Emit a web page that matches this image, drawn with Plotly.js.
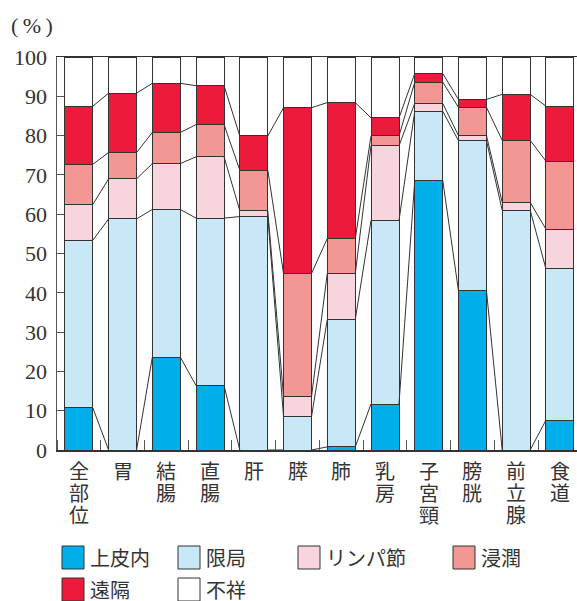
<!DOCTYPE html>
<html><head><meta charset="utf-8">
<script src="https://cdn.plot.ly/plotly-3.0.1.min.js"></script>
<style>body{margin:0;background:#fff}#c{width:577px;height:601px}</style>
</head><body><div id="c"></div>
<script>
const categories = ['全部位','胃','結腸','直腸','肝','膵','肺','乳房','子宮頸','膀胱','前立腺','食道'];
const seriesNames = ['上皮内','限局','リンパ節','浸潤','遠隔','不祥'];
const joohinai = [10.7,0,23.6,16.4,0,0,0.8,11.7,68.6,40.5,0,7.6];
const genkyoku = [42.7,58.8,37.6,42.6,59.4,8.5,32.4,46.7,17.6,38.2,61.0,38.5];
const lymph    = [9.1,10.2,11.7,15.6,1.5,5.1,11.7,19.0,2.0,1.3,2.0,10.1];
const shinjun  = [10.2,6.7,7.9,8.2,10.3,31.3,8.9,2.5,5.4,7.2,15.8,17.3];
const enkaku   = [14.8,15.1,12.5,9.9,8.7,42.2,34.6,4.6,2.2,2.0,11.7,14.0];
const fushou   = [12.5,9.2,6.7,7.3,20.1,12.9,11.6,15.5,4.2,10.8,9.5,12.5];
const yTicks = [0,10,20,30,40,50,60,70,80,90,100];

const seriesValues = [joohinai, genkyoku, lymph, shinjun, enkaku, fushou];
const colors = ['#00AEEA','#C8E8F8','#F8D4DC','#F29794','#EC1B3B','#FFFFFF'];
const BW = 0.64;
const xIdx = categories.map((_, i) => i);

const traces = seriesValues.map((vals, s) => ({
  type: 'bar', x: xIdx, y: vals, name: seriesNames[s], width: BW,
  marker: {color: colors[s], line: {color: '#333', width: 1}},
  showlegend: false, hoverinfo: 'skip'
}));

// connector lines between cumulative boundaries of adjacent bars
const cx = [], cy = [];
const cum = categories.map(() => 0);
for (let s = 0; s < seriesValues.length - 1; s++) {
  seriesValues[s].forEach((v, i) => { cum[i] += v; });
  for (let i = 0; i < categories.length - 1; i++) {
    cx.push(i + BW / 2, i + 1 - BW / 2, null);
    cy.push(cum[i], cum[i + 1], null);
  }
}
traces.push({type: 'scatter', mode: 'lines', x: cx, y: cy, line: {color: '#333', width: 1},
  showlegend: false, hoverinfo: 'skip', connectgaps: false});

const L = 57, W = 520, B = 450, H = 393;
const px = p => (p - L) / W, py = p => (B - p) / H;
const shapes = [], annotations = [];

// vertical category labels (one character per line)
categories.forEach((c, i) => {
  Array.from(c).forEach((ch, k) => {
    annotations.push({xref: 'x', yref: 'paper', x: i, y: py(470 + 22 * k), xanchor: 'center', yanchor: 'middle',
      text: ch, showarrow: false, font: {family: 'Noto Sans CJK JP', size: 20, color: '#333'}});
  });
});

// manual legend
const legendPos = [[62,546],[178,546],[298,546],[453,546],[62,578],[178,578]];
legendPos.forEach(([x, y], s) => {
  shapes.push({type: 'rect', xref: 'paper', yref: 'paper', x0: px(x), x1: px(x + 22), y0: py(y), y1: py(y + 23),
    fillcolor: colors[s], line: {color: '#333', width: 1}});
  annotations.push({xref: 'paper', yref: 'paper', x: px(x + 26), y: py(y + 11), xanchor: 'left', yanchor: 'middle',
    text: seriesNames[s], showarrow: false, font: {family: 'Noto Sans CJK JP', size: 20, color: '#333'}});
});
annotations.push({xref: 'paper', yref: 'paper', x: px(32), y: py(26), xanchor: 'center', yanchor: 'middle',
  text: '(\u2009%\u2009)', showarrow: false, font: {family: 'Liberation Serif', size: 22, color: '#333'}});

const layout = {
  width: 577, height: 601,
  margin: {l: 57, r: 0, t: 57, b: 151},
  paper_bgcolor: '#fff', plot_bgcolor: '#fff',
  barmode: 'stack', showlegend: false,
  xaxis: {range: [-0.5, 11.39], tickvals: xIdx, showticklabels: false, ticks: '',
    showgrid: false, zeroline: false, showline: true, linecolor: '#333', linewidth: 1.5, mirror: true,
    minor: {tick0: 0.5, dtick: 1, ticks: 'inside', ticklen: 10, tickcolor: '#555', tickwidth: 1, showgrid: false}},
  yaxis: {range: [0, 100], tickvals: yTicks, ticks: 'inside', ticklen: 7, tickcolor: '#555',
    showgrid: false, zeroline: false, showline: true, linecolor: '#555', linewidth: 1.5,
    tickfont: {family: 'Liberation Serif', size: 22, color: '#333'}, ticklabelstandoff: 4},
  shapes: shapes, annotations: annotations
};
Plotly.newPlot('c', traces, layout, {staticPlot: true});
</script></body></html>
